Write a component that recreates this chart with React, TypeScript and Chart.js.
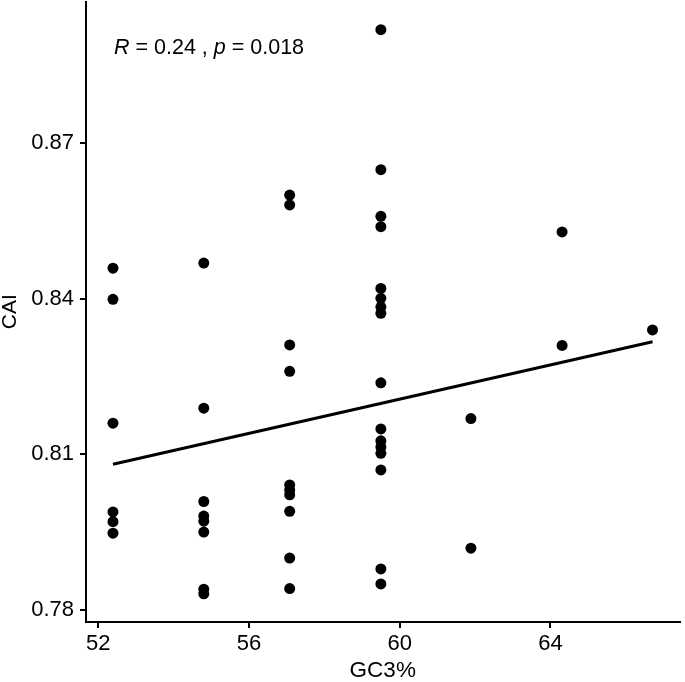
import { useEffect, useRef } from "react";
import { Chart, registerables } from "chart.js";

Chart.register(...registerables);

// GC3% column positions and CAI values at each
const gc3Groups = [52.39, 54.8, 57.08, 59.5, 61.89, 64.31, 66.71];
const caiGroups = [
  [0.8459, 0.8399, 0.816, 0.7989, 0.797, 0.7948],
  [0.8469, 0.8189, 0.8009, 0.7981, 0.7971, 0.795, 0.784, 0.7831],
  [0.86, 0.8581, 0.8311, 0.826, 0.8041, 0.8031, 0.8022, 0.799, 0.79, 0.7841],
  [0.8919, 0.8649, 0.8559, 0.8539, 0.842, 0.8401, 0.8384, 0.8372, 0.8238, 0.8149, 0.8126, 0.8114, 0.8102, 0.807, 0.7879, 0.785],
  [0.8169, 0.7919],
  [0.8529, 0.831],
  [0.834],
];

// fitted regression line
const fitX = [52.39, 66.71];
const fitY = [0.8081, 0.8317];

const xTicks = [52, 56, 60, 64];
const yTicks = [0.78, 0.81, 0.84, 0.87];

const statR = "0.24";
const statP = "0.018";

const FONT = "'Liberation Sans', Arial, Helvetica, sans-serif";

export default function App() {
  const ref = useRef<HTMLCanvasElement>(null);

  useEffect(() => {
    document.body.style.margin = "0";
    const points: { x: number; y: number }[] = [];
    gc3Groups.forEach((gx, i) => caiGroups[i].forEach((v) => points.push({ x: gx, y: v })));
    const xs = points.map((p) => p.x);
    const ys = points.map((p) => p.y);
    const xMin = Math.min(...xs), xMax = Math.max(...xs);
    const yMin = Math.min(...ys), yMax = Math.max(...ys);
    const xPad = (xMax - xMin) * 0.05;
    const yPad = (yMax - yMin) * 0.05;

    const annot = {
      id: "annot",
      afterDraw(c: any) {
        const ctx = c.ctx;
        const a = c.chartArea;
        ctx.save();
        ctx.fillStyle = "#000";
        ctx.textBaseline = "alphabetic";
        ctx.textAlign = "left";
        let x = a.left + 28;
        const y = a.top + 52;
        const parts: [string, boolean][] = [
          ["R", true],
          [" = " + statR + " , ", false],
          ["p", true],
          [" = " + statP, false],
        ];
        for (const [t, it] of parts) {
          ctx.font = (it ? "italic " : "") + "21.5px " + FONT;
          ctx.fillText(t, x, y);
          x += ctx.measureText(t).width;
        }
        ctx.restore();
      },
    };

    const chart = new Chart(ref.current!, {
      type: "scatter",
      data: {
        datasets: [
          {
            type: "line",
            data: fitX.map((v, i) => ({ x: v, y: fitY[i] })),
            borderColor: "#000",
            borderWidth: 3,
            pointRadius: 0,
            showLine: true,
            fill: false,
            order: 0,
          } as any,
          {
            type: "scatter",
            data: points,
            pointRadius: 5.5,
            pointHoverRadius: 5.5,
            backgroundColor: "#000",
            borderWidth: 0,
            order: 1,
          },
        ],
      },
      options: {
        responsive: false,
        animation: false,
        devicePixelRatio: 1,
        layout: { padding: { top: 0, right: 2, left: 0, bottom: 0 } },
        plugins: { legend: { display: false }, tooltip: { enabled: false } },
        scales: {
          x: {
            type: "linear",
            min: xMin - xPad,
            max: xMax + xPad,
            afterBuildTicks: (s: any) => {
              s.ticks = xTicks.map((v) => ({ value: v }));
            },
            afterFit: (s: any) => {
              s.height = 60;
              s.paddingLeft = 0;
              s.paddingRight = 0;
            },
            ticks: {
              autoSkip: false,
              maxRotation: 0,
              padding: 3,
              color: "#000",
              font: { family: FONT, size: 22 },
              callback: (v: any) => String(v),
            },
            grid: { display: true, drawOnChartArea: false, drawTicks: true, tickLength: 6, color: "#000", lineWidth: 2 },
            border: { display: true, color: "#000", width: 2 },
            title: { display: true, text: "GC3%", color: "#000", font: { family: FONT, size: 22.5, lineHeight: 1 }, padding: 0 },
          },
          y: {
            type: "linear",
            min: yMin - yPad,
            max: yMax + yPad,
            afterBuildTicks: (s: any) => {
              s.ticks = yTicks.map((v) => ({ value: v }));
            },
            afterFit: (s: any) => {
              s.width = 86;
              s.paddingTop = 0;
              s.paddingBottom = 0;
            },
            ticks: {
              autoSkip: false,
              padding: 6,
              color: "#000",
              font: { family: FONT, size: 22 },
              callback: (v: any) => Number(v).toFixed(2),
            },
            grid: { display: true, drawOnChartArea: false, drawTicks: true, tickLength: 6, color: "#000", lineWidth: 2 },
            border: { display: true, color: "#000", width: 2 },
            title: { display: true, text: "CAI", color: "#000", font: { family: FONT, size: 21, lineHeight: 1 }, padding: 0 },
          },
        },
      },
      plugins: [annot],
    });
    return () => chart.destroy();
  }, []);

  return (
    <div style={{ width: 685, height: 682, overflow: "hidden" }}>
      <canvas ref={ref} width={685} height={686} style={{ display: "block", marginTop: -4 }} />
    </div>
  );
}
